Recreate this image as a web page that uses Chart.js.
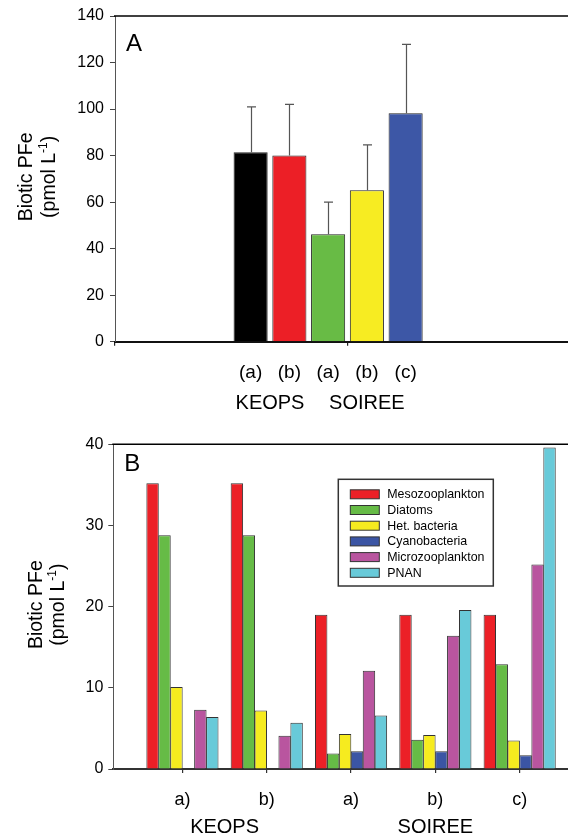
<!DOCTYPE html>
<html>
<head>
<meta charset="utf-8">
<script src="https://cdn.jsdelivr.net/npm/chart.js@4.4.0/dist/chart.umd.min.js"></script>
<style>
html, body { margin: 0; padding: 0; background: #fff; overflow: hidden; }
#page { position: relative; width: 568px; height: 838px; overflow: hidden; }
.panel { position: absolute; left: 0; }
#boxA { top: 0; width: 580px; height: 420px; }
#boxB { top: 420px; width: 577px; height: 418px; }
</style>
</head>
<body>
<div id="page">
  <div class="panel" id="boxA"><canvas id="chartA"></canvas></div>
  <div class="panel" id="boxB"><canvas id="chartB"></canvas></div>
</div>
<script>
// ---- panel A : total biotic PFe per run ----
const runsA = ['(a)', '(b)', '(a)', '(b)', '(c)'];
const pfeA = [81.4, 80.0, 46.2, 65.1, 98.2];
const sdA = [19.5, 22.0, 13.8, 19.5, 29.6];
const coloursA = ['#000000', '#ec1f26', '#68bb45', '#f7ec22', '#3d57a6'];
const ticksA = [0, 20, 40, 60, 80, 100, 120, 140];

// ---- panel B : PFe per plankton group ----
const runsB = ['a)', 'b)', 'a)', 'b)', 'c)'];
const groupsB = ['Mesozooplankton', 'Diatoms', 'Het. bacteria', 'Cyanobacteria', 'Microzooplankton', 'PNAN'];
const mesozoo = [35.2, 35.2, 19.0, 19.0, 19.0];
const diatoms = [28.8, 28.8, 1.9, 3.6, 12.9];
const hetBact = [10.1, 7.2, 4.3, 4.2, 3.5];
const cyano = [null, null, 2.2, 2.2, 1.7];
const microzoo = [7.3, 4.1, 12.1, 16.4, 25.2];
const pnan = [6.4, 5.7, 6.6, 19.6, 39.6];
const coloursB = ['#ec2027', '#66bb46', '#f6eb1f', '#3b55a4', '#b9559f', '#68cad9'];
const ticksB = [0, 10, 20, 30, 40];

const cruises = ['KEOPS', 'SOIREE'];
const cruiseRuns = [[0, 1], [2, 3, 4]];
const yTitle = ['Biotic PFe', '(pmol L', '-1', ')'];

const FONT = 'Arial, "Liberation Sans", Helvetica, sans-serif';

// panel A sits in the middle of a wider axis: empty slots either side
const padBefore = 3, padAfter = 4;
const pad = (arr, fill) => [...Array(padBefore).fill(fill), ...arr, ...Array(padAfter).fill(fill)];

const frameTop = {
  id: 'frameTop',
  afterDraw(chart, args, o) {
    const { ctx, chartArea: a } = chart;
    ctx.save();
    ctx.strokeStyle = '#000';
    ctx.lineWidth = 1.5;
    ctx.beginPath();
    ctx.moveTo(a.left - 1, a.top);
    ctx.lineTo(a.right, a.top);
    ctx.stroke();
    // panel letter
    ctx.fillStyle = '#000';
    ctx.font = '24px ' + FONT;
    ctx.textBaseline = 'alphabetic';
    ctx.fillText(o.letter, a.left + 11, a.top + o.letterDy);
    ctx.restore();
  }
};

const yTitlePlugin = {
  id: 'yTitlePlugin',
  afterDraw(chart, args, o) {
    const { ctx, chartArea: a } = chart;
    const cy = (a.top + a.bottom) / 2 - 2;
    ctx.save();
    ctx.fillStyle = '#000';
    ctx.textBaseline = 'alphabetic';
    ctx.textAlign = 'left';
    ctx.font = '19.5px ' + FONT;
    let w = ctx.measureText(yTitle[0]).width;
    ctx.translate(o.x1, cy);
    ctx.rotate(-Math.PI / 2);
    ctx.fillText(yTitle[0], -w / 2, 0);
    ctx.restore();

    ctx.save();
    ctx.fillStyle = '#000';
    ctx.textBaseline = 'alphabetic';
    ctx.textAlign = 'left';
    ctx.font = '19.5px ' + FONT;
    const w1 = ctx.measureText(yTitle[1]).width;
    const w3 = ctx.measureText(yTitle[3]).width;
    ctx.font = '12px ' + FONT;
    const w2 = ctx.measureText(yTitle[2]).width;
    w = w1 + w2 + w3;
    ctx.translate(o.x2, cy);
    ctx.rotate(-Math.PI / 2);
    let x = -w / 2;
    ctx.font = '19.5px ' + FONT;
    ctx.fillText(yTitle[1], x, 0);
    x += w1;
    ctx.font = '12px ' + FONT;
    ctx.fillText(yTitle[2], x, -8);
    x += w2;
    ctx.font = '19.5px ' + FONT;
    ctx.fillText(yTitle[3], x, 0);
    ctx.restore();
  }
};

const cruiseLabels = {
  id: 'cruiseLabels',
  afterDraw(chart, args, o) {
    const { ctx, chartArea: a } = chart;
    const xs = chart.scales.x;
    ctx.save();
    ctx.fillStyle = '#000';
    ctx.font = '20px ' + FONT;
    ctx.textAlign = 'center';
    ctx.textBaseline = 'alphabetic';
    cruises.forEach((name, i) => {
      const px = cruiseRuns[i].map(r => xs.getPixelForValue(r + o.offset));
      const cx = px.reduce((s, v) => s + v, 0) / px.length;
      ctx.fillText(name, cx, a.bottom + o.dy);
    });
    ctx.restore();
  }
};

const errorBars = {
  id: 'errorBars',
  afterDatasetsDraw(chart) {
    const { ctx } = chart;
    const ys = chart.scales.y;
    const meta = chart.getDatasetMeta(0);
    const vals = chart.data.datasets[0].data;
    const sds = pad(sdA, null);
    ctx.save();
    ctx.strokeStyle = '#555';
    ctx.lineWidth = 1.2;
    meta.data.forEach((bar, i) => {
      if (vals[i] == null) return;
      const x = Math.round(bar.x) + 0.5;
      const top = ys.getPixelForValue(vals[i] + sds[i]);
      ctx.beginPath();
      ctx.moveTo(x, bar.y);
      ctx.lineTo(x, top);
      ctx.moveTo(x - 4.5, top);
      ctx.lineTo(x + 4.5, top);
      ctx.stroke();
    });
    ctx.restore();
  }
};

const legendBox = {
  id: 'legendBox',
  afterDraw(chart) {
    const { ctx, chartArea: a } = chart;
    const x0 = a.left + 225, y0 = a.top + 35, w = 155, h = 106.7;
    ctx.save();
    ctx.fillStyle = '#fff';
    ctx.fillRect(x0, y0, w, h);
    ctx.strokeStyle = '#333';
    ctx.lineWidth = 1.5;
    ctx.strokeRect(x0, y0, w, h);
    ctx.font = '12.4px ' + FONT;
    ctx.textBaseline = 'middle';
    ctx.textAlign = 'left';
    chart.data.datasets.forEach((ds, i) => {
      const cy = y0 + 15 + i * 15.7;
      ctx.fillStyle = ds.backgroundColor;
      ctx.fillRect(x0 + 12, cy - 4.5, 29, 9);
      ctx.strokeStyle = '#333';
      ctx.lineWidth = 1;
      ctx.strokeRect(x0 + 12, cy - 4.5, 29, 9);
      ctx.fillStyle = '#000';
      ctx.fillText(ds.label, x0 + 49, cy + 0.5);
    });
    ctx.restore();
  }
};

Chart.defaults.font.family = FONT;
Chart.defaults.color = '#000';

const yTicksFont = { size: 16, family: FONT };

new Chart(document.getElementById('chartA'), {
  type: 'bar',
  data: {
    labels: pad(runsA, ''),
    datasets: [{
      data: pad(pfeA, null),
      backgroundColor: pad(coloursA, 'transparent'),
      borderColor: '#222',
      borderWidth: 1,
      borderSkipped: 'start',
      categoryPercentage: 1,
      barPercentage: 0.88
    }]
  },
  options: {
    responsive: true,
    maintainAspectRatio: false,
    devicePixelRatio: 1,
    animation: false,
    events: [],
    layout: { padding: { top: 16, left: 0, right: 0, bottom: 0 } },
    plugins: {
      legend: { display: false },
      tooltip: { enabled: false },
      frameTop: { letter: 'A', letterDy: 34.7 },
      yTitlePlugin: { x1: 32.3, x2: 55 },
      cruiseLabels: { offset: padBefore, dy: 67.6 }
    },
    scales: {
      x: {
        type: 'category',
        afterFit: s => { s.height = 78.3; },
        ticks: { autoSkip: false, maxRotation: 0, padding: 16, font: { size: 19, family: FONT }, color: '#000' },
        grid: {
          offset: true, drawOnChartArea: false, drawTicks: true, tickLength: 4, lineWidth: 1.2,
          color: c => (c.index === 0 || c.index === padBefore + 3) ? '#222' : 'rgba(0,0,0,0)'
        },
        border: { display: true, color: '#111', width: 2 }
      },
      y: {
        min: ticksA[0], max: ticksA[ticksA.length - 1],
        afterFit: s => { s.width = 115; },
        afterBuildTicks: s => { s.ticks = ticksA.map(v => ({ value: v })); },
        ticks: { padding: 6, font: yTicksFont, color: '#000' },
        grid: { drawOnChartArea: false, drawTicks: true, tickLength: 5, color: '#444', lineWidth: 1 },
        border: { display: true, color: '#555', width: 1 }
      }
    }
  },
  plugins: [frameTop, yTitlePlugin, cruiseLabels, errorBars]
});

const seriesB = [mesozoo, diatoms, hetBact, cyano, microzoo, pnan];

new Chart(document.getElementById('chartB'), {
  type: 'bar',
  data: {
    datasets: seriesB.map((vals, k) => ({
      label: groupsB[k],
      data: vals.map((v, i) => ({ x: i, y: v })),
      backgroundColor: coloursB[k],
      borderColor: '#333',
      borderWidth: 1,
      borderSkipped: 'start',
      categoryPercentage: 0.85,
      barPercentage: 1.04
    }))
  },
  options: {
    responsive: true,
    maintainAspectRatio: false,
    devicePixelRatio: 1,
    animation: false,
    events: [],
    layout: { padding: { top: 24.3, left: 0, right: 0, bottom: 0 } },
    plugins: {
      legend: { display: false },
      tooltip: { enabled: false },
      frameTop: { letter: 'B', letterDy: 26.7 },
      yTitlePlugin: { x1: 41.5, x2: 64 },
      cruiseLabels: { offset: 0, dy: 64 }
    },
    scales: {
      x: {
        type: 'linear', min: -0.82, max: 4.68, offset: false,
        afterFit: s => { s.height = 69; },
        afterBuildTicks: s => { s.ticks = runsB.map((_, i) => ({ value: i })); },
        ticks: {
          autoSkip: false, maxRotation: 0, padding: 16, font: { size: 18, family: FONT }, color: '#000',
          callback: v => runsB[v] ?? ''
        },
        grid: { offset: false, drawOnChartArea: false, drawTicks: true, tickLength: 4, color: '#333', lineWidth: 1.2 },
        border: { display: true, color: '#333', width: 2 }
      },
      y: {
        min: ticksB[0], max: ticksB[ticksB.length - 1],
        afterFit: s => { s.width = 113.3; },
        afterBuildTicks: s => { s.ticks = ticksB.map(v => ({ value: v })); },
        ticks: { padding: 5, font: yTicksFont, color: '#000' },
        grid: { drawOnChartArea: false, drawTicks: true, tickLength: 5, color: '#444', lineWidth: 1 },
        border: { display: true, color: '#555', width: 1 }
      }
    }
  },
  plugins: [frameTop, yTitlePlugin, cruiseLabels, legendBox]
});
</script>
</body>
</html>
